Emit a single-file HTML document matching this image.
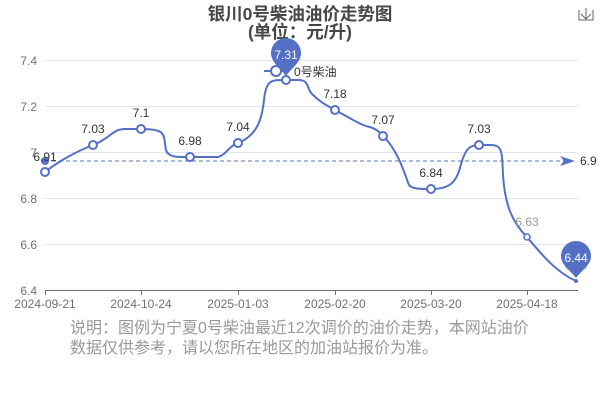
<!DOCTYPE html>
<html><head><meta charset="utf-8"><style>
html,body{margin:0;padding:0;background:#fff;}
svg{display:block;}
text{font-family:"Liberation Sans","Noto Sans CJK SC",sans-serif;}
</style></head><body>
<svg width="600" height="400" viewBox="0 0 600 400">
<rect width="600" height="400" fill="#fff"/>
<text x="300" y="20" text-anchor="middle" font-size="17.5" font-weight="bold" fill="#464646">银川0号柴油油价走势图</text>
<text x="300" y="38" text-anchor="middle" font-size="17.5" font-weight="bold" fill="#464646">(单位：元/升)</text>
<g stroke="#666" fill="none" stroke-width="1"><path d="M579 10v10h14v-10M586 8v11M581 14l5 5 5-5"/></g>
<g stroke="#e0e6f1" stroke-width="1">
<line x1="45" y1="60.5" x2="578" y2="60.5"/><line x1="45" y1="106.5" x2="578" y2="106.5"/>
<line x1="45" y1="152.5" x2="578" y2="152.5"/><line x1="45" y1="198.5" x2="578" y2="198.5"/>
<line x1="45" y1="244.5" x2="578" y2="244.5"/></g>
<line x1="45" y1="290.5" x2="578" y2="290.5" stroke="#6e7079"/>
<g stroke="#6e7079"><line x1="45.5" y1="290" x2="45.5" y2="295"/><line x1="141.5" y1="290" x2="141.5" y2="295"/><line x1="238.5" y1="290" x2="238.5" y2="295"/><line x1="335.5" y1="290" x2="335.5" y2="295"/><line x1="431.5" y1="290" x2="431.5" y2="295"/><line x1="527.5" y1="290" x2="527.5" y2="295"/></g>
<g font-size="12" fill="#6e7079" text-anchor="end">
<text x="37" y="65">7.4</text><text x="37" y="111">7.2</text><text x="37" y="157">7</text><text x="37" y="203">6.8</text><text x="37" y="249">6.6</text><text x="37" y="295">6.4</text></g>
<g font-size="12" fill="#6e7079" text-anchor="middle">
<text x="45" y="308">2024-09-21</text><text x="141" y="308">2024-10-24</text><text x="238" y="308">2025-01-03</text><text x="335" y="308">2025-02-20</text><text x="431" y="308">2025-03-20</text><text x="527" y="308">2025-04-18</text></g>
<line x1="45" y1="161" x2="566" y2="161" stroke="#5470c6" stroke-dasharray="4,3"/>
<path d="M560 156l15 5-15 5 4-5z" fill="#5470c6"/>
<text x="580" y="165" font-size="12" fill="#333">6.9</text>
<path d="M45 172C60 160 80 150 93 145C110 139 112 129 125 129L141 129C168 129 163 135 166 150C168 158 180 157 190 157L218 157C226 155 230 145 238 143C258 135 262 118 264 100C266 79 272 80 286 80L298 80C310 80 306 88 312 94C320 102 326 105 335 110C350 118 362 126 370 127C376 129 380 132 383 136C398 150 405 175 409 185C412 189 420 189 431 189C450 189 456 182 460 168C465 148 470 145 479 145L490 145C502 145 502 150 503 175C505 205 512 222 527 237C542 255 556 272 576 281" fill="none" stroke="#5470c6" stroke-width="2"/>
<g fill="#fff" stroke="#5470c6" stroke-width="2">
<circle cx="45" cy="172" r="4"/><circle cx="93" cy="145" r="4"/><circle cx="141" cy="129" r="4"/><circle cx="190" cy="157" r="4"/><circle cx="238" cy="143" r="4"/><circle cx="286" cy="80" r="4"/><circle cx="335" cy="110" r="4"/><circle cx="383" cy="136" r="4"/><circle cx="431" cy="189" r="4"/><circle cx="479" cy="145" r="4"/><circle cx="527" cy="237" r="3" stroke-width="1.5"/></g>
<circle cx="576" cy="281" r="2" fill="#5470c6"/>
<circle cx="45" cy="161" r="4" fill="#5470c6"/>
<g font-size="12" fill="#333" text-anchor="middle">
<text x="45" y="161">6.91</text><text x="93" y="133">7.03</text><text x="141" y="117">7.1</text><text x="190" y="145">6.98</text><text x="238" y="131">7.04</text><text x="335" y="98">7.18</text><text x="383" y="124">7.07</text><text x="431" y="177">6.84</text><text x="479" y="133">7.03</text></g>
<text x="527" y="226" font-size="12" fill="#999" text-anchor="middle">6.63</text>
<text x="576" y="270" font-size="12" fill="#ccc" text-anchor="middle">6.44</text>
<line x1="264" y1="71" x2="288" y2="71" stroke="#5470c6" stroke-width="2"/>
<circle cx="276" cy="71" r="5" fill="#fff" stroke="#5470c6" stroke-width="2"/>
<text x="294" y="76" font-size="12" fill="#333">0号柴油</text>
<path d="M286 76C280 68 271 62 271 53A15 15 0 0 1 301 53C301 62 292 68 286 76z" fill="#5470c6"/>
<text x="286" y="59" font-size="12" fill="#fff" text-anchor="middle">7.31</text>
<path d="M576 278C570 270 561 265 561 256A15 15 0 0 1 591 256C591 265 582 270 576 278z" fill="#5470c6"/>
<text x="576" y="262" font-size="12" fill="#fff" text-anchor="middle">6.44</text>
<text x="70" y="333" font-size="16" fill="#999">说明：图例为宁夏0号柴油最近12次调价的油价走势，本网站油价</text>
<text x="70" y="353" font-size="16" fill="#999">数据仅供参考，请以您所在地区的加油站报价为准。</text>
</svg>
</body></html>
